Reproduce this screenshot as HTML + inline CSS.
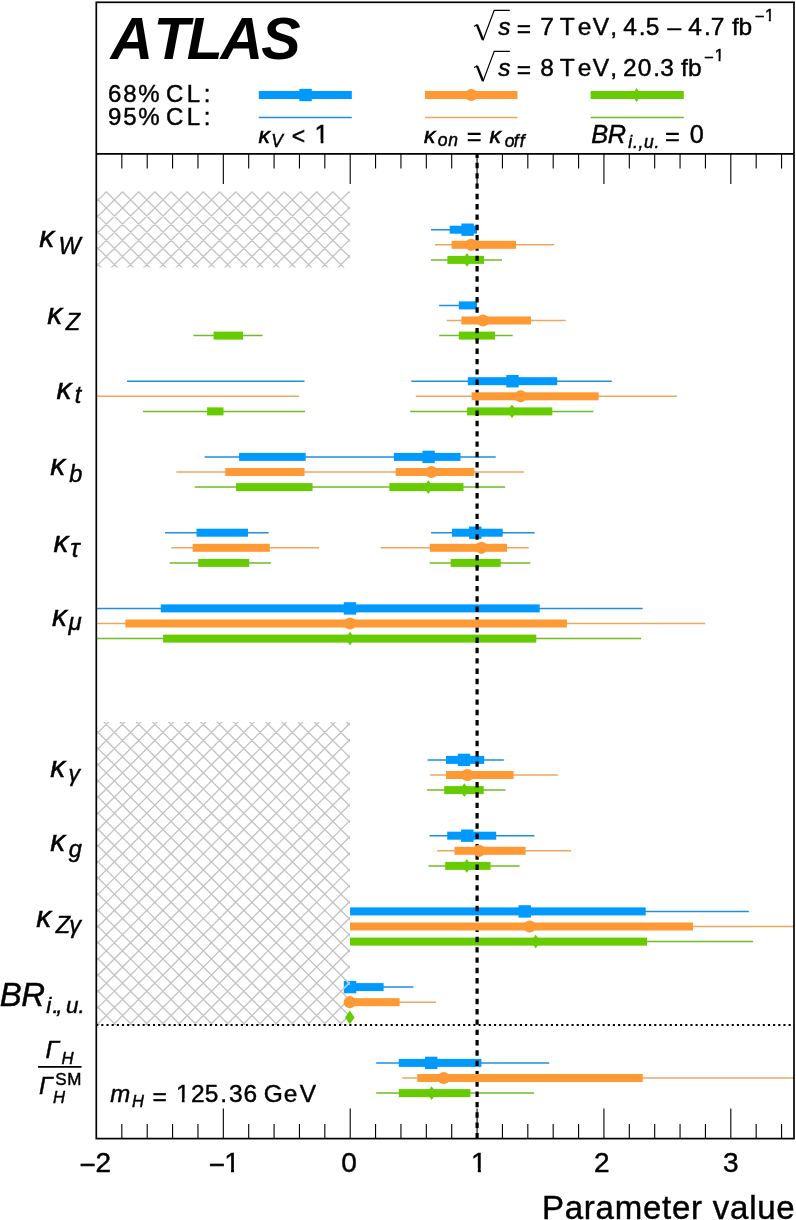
<!DOCTYPE html>
<html lang="en"><head><meta charset="utf-8"><title>ATLAS coupling fits</title>
<style>html,body{margin:0;padding:0;background:#fff}svg{display:block}</style>
</head><body>
<svg width="796" height="1220" viewBox="0 0 796 1220" font-family="'Liberation Sans', sans-serif" fill="#000">
<rect width="796" height="1220" fill="#fff"/>
<clipPath id="h1"><rect x="96.3" y="191.6" width="253.7" height="75.79999999999998"/></clipPath>
<g clip-path="url(#h1)" stroke="#c4c4c4" stroke-width="1.35" fill="none">
<path d="M94.30 -95.29L352.00 162.41M94.30 -79.11L352.00 178.59M94.30 -62.93L352.00 194.77M94.30 -46.75L352.00 210.95M94.30 -30.57L352.00 227.13M94.30 -14.39L352.00 243.31M94.30 1.79L352.00 259.49M94.30 17.97L352.00 275.67M94.30 34.15L352.00 291.85M94.30 50.33L352.00 308.03M94.30 66.51L352.00 324.21M94.30 82.69L352.00 340.39M94.30 98.87L352.00 356.57M94.30 115.05L352.00 372.75M94.30 131.23L352.00 388.93M94.30 147.41L352.00 405.11M94.30 163.59L352.00 421.29M94.30 179.77L352.00 437.47M94.30 195.95L352.00 453.65M94.30 212.13L352.00 469.83M94.30 228.31L352.00 486.01M94.30 244.49L352.00 502.19M94.30 260.67L352.00 518.37M94.30 276.85L352.00 534.55M94.30 293.03L352.00 550.73M94.30 171.47L352.00 -86.23M94.30 187.65L352.00 -70.05M94.30 203.83L352.00 -53.87M94.30 220.01L352.00 -37.69M94.30 236.19L352.00 -21.51M94.30 252.37L352.00 -5.33M94.30 268.55L352.00 10.85M94.30 284.73L352.00 27.03M94.30 300.91L352.00 43.21M94.30 317.09L352.00 59.39M94.30 333.27L352.00 75.57M94.30 349.45L352.00 91.75M94.30 365.63L352.00 107.93M94.30 381.81L352.00 124.11M94.30 397.99L352.00 140.29M94.30 414.17L352.00 156.47M94.30 430.35L352.00 172.65M94.30 446.53L352.00 188.83M94.30 462.71L352.00 205.01M94.30 478.89L352.00 221.19M94.30 495.07L352.00 237.37M94.30 511.25L352.00 253.55M94.30 527.43L352.00 269.73M94.30 543.61L352.00 285.91"/>
</g>
<line x1="431.0" y1="229.7" x2="477.0" y2="229.7" stroke="#1c8ee4" stroke-width="1.5"/>
<rect x="449.7" y="225.7" width="27.3" height="8.0" fill="#0099ff"/>
<rect x="461.4" y="223.5" width="12.4" height="12.4" fill="#0099ff"/>
<line x1="439.2" y1="305.4" x2="477.0" y2="305.4" stroke="#1c8ee4" stroke-width="1.5"/>
<rect x="458.8" y="301.4" width="18.2" height="8.0" fill="#0099ff"/>
<line x1="127.0" y1="381.2" x2="304.5" y2="381.2" stroke="#1c8ee4" stroke-width="1.5"/>
<line x1="411.3" y1="381.2" x2="611.8" y2="381.2" stroke="#1c8ee4" stroke-width="1.5"/>
<rect x="467.8" y="377.2" width="89.4" height="8.0" fill="#0099ff"/>
<rect x="506.3" y="375.0" width="12.4" height="12.4" fill="#0099ff"/>
<line x1="204.7" y1="456.9" x2="495.7" y2="456.9" stroke="#1c8ee4" stroke-width="1.5"/>
<rect x="239.1" y="452.9" width="66.6" height="8.0" fill="#0099ff"/>
<rect x="393.9" y="452.9" width="66.6" height="8.0" fill="#0099ff"/>
<rect x="422.4" y="450.7" width="12.4" height="12.4" fill="#0099ff"/>
<line x1="165.1" y1="532.7" x2="268.6" y2="532.7" stroke="#1c8ee4" stroke-width="1.5"/>
<line x1="431.1" y1="532.7" x2="534.6" y2="532.7" stroke="#1c8ee4" stroke-width="1.5"/>
<rect x="196.5" y="528.7" width="51.5" height="8.0" fill="#0099ff"/>
<rect x="452.0" y="528.7" width="50.7" height="8.0" fill="#0099ff"/>
<rect x="469.1" y="526.5" width="12.4" height="12.4" fill="#0099ff"/>
<line x1="96.0" y1="608.4" x2="642.6" y2="608.4" stroke="#1c8ee4" stroke-width="1.5"/>
<rect x="160.8" y="604.4" width="378.9" height="8.0" fill="#0099ff"/>
<rect x="343.8" y="602.2" width="12.4" height="12.4" fill="#0099ff"/>
<line x1="427.6" y1="759.9" x2="503.8" y2="759.9" stroke="#1c8ee4" stroke-width="1.5"/>
<rect x="446.0" y="755.9" width="38.2" height="8.0" fill="#0099ff"/>
<rect x="457.8" y="753.7" width="12.4" height="12.4" fill="#0099ff"/>
<line x1="429.6" y1="835.7" x2="534.4" y2="835.7" stroke="#1c8ee4" stroke-width="1.5"/>
<rect x="447.2" y="831.7" width="49.0" height="8.0" fill="#0099ff"/>
<rect x="461.1" y="829.5" width="12.4" height="12.4" fill="#0099ff"/>
<line x1="350.0" y1="911.4" x2="748.8" y2="911.4" stroke="#1c8ee4" stroke-width="1.5"/>
<rect x="350.1" y="907.4" width="295.6" height="8.0" fill="#0099ff"/>
<rect x="518.5" y="905.2" width="12.4" height="12.4" fill="#0099ff"/>
<line x1="350.0" y1="987.1" x2="413.5" y2="987.1" stroke="#1c8ee4" stroke-width="1.5"/>
<rect x="350.0" y="983.1" width="33.6" height="8.0" fill="#0099ff"/>
<rect x="343.8" y="980.9" width="12.4" height="12.4" fill="#0099ff"/>
<line x1="376.2" y1="1062.9" x2="549.2" y2="1062.9" stroke="#1c8ee4" stroke-width="1.5"/>
<rect x="398.8" y="1058.9" width="82.6" height="8.0" fill="#0099ff"/>
<rect x="425.0" y="1056.7" width="12.4" height="12.4" fill="#0099ff"/>
<clipPath id="h2"><rect x="96.3" y="722.0" width="253.7" height="303.0"/></clipPath>
<g clip-path="url(#h2)" stroke="#c4c4c4" stroke-width="1.35" fill="none">
<path d="M94.30 437.24L352.00 694.94M94.30 453.42L352.00 711.12M94.30 469.60L352.00 727.30M94.30 485.78L352.00 743.48M94.30 501.96L352.00 759.66M94.30 518.14L352.00 775.84M94.30 534.32L352.00 792.02M94.30 550.50L352.00 808.20M94.30 566.68L352.00 824.38M94.30 582.86L352.00 840.56M94.30 599.04L352.00 856.74M94.30 615.22L352.00 872.92M94.30 631.40L352.00 889.10M94.30 647.58L352.00 905.28M94.30 663.76L352.00 921.46M94.30 679.94L352.00 937.64M94.30 696.12L352.00 953.82M94.30 712.30L352.00 970.00M94.30 728.48L352.00 986.18M94.30 744.66L352.00 1002.36M94.30 760.84L352.00 1018.54M94.30 777.02L352.00 1034.72M94.30 793.20L352.00 1050.90M94.30 809.38L352.00 1067.08M94.30 825.56L352.00 1083.26M94.30 841.74L352.00 1099.44M94.30 857.92L352.00 1115.62M94.30 874.10L352.00 1131.80M94.30 890.28L352.00 1147.98M94.30 906.46L352.00 1164.16M94.30 922.64L352.00 1180.34M94.30 938.82L352.00 1196.52M94.30 955.00L352.00 1212.70M94.30 971.18L352.00 1228.88M94.30 987.36L352.00 1245.06M94.30 1003.54L352.00 1261.24M94.30 1019.72L352.00 1277.42M94.30 1035.90L352.00 1293.60M94.30 1052.08L352.00 1309.78M94.30 703.94L352.00 446.24M94.30 720.12L352.00 462.42M94.30 736.30L352.00 478.60M94.30 752.48L352.00 494.78M94.30 768.66L352.00 510.96M94.30 784.84L352.00 527.14M94.30 801.02L352.00 543.32M94.30 817.20L352.00 559.50M94.30 833.38L352.00 575.68M94.30 849.56L352.00 591.86M94.30 865.74L352.00 608.04M94.30 881.92L352.00 624.22M94.30 898.10L352.00 640.40M94.30 914.28L352.00 656.58M94.30 930.46L352.00 672.76M94.30 946.64L352.00 688.94M94.30 962.82L352.00 705.12M94.30 979.00L352.00 721.30M94.30 995.18L352.00 737.48M94.30 1011.36L352.00 753.66M94.30 1027.54L352.00 769.84M94.30 1043.72L352.00 786.02M94.30 1059.90L352.00 802.20M94.30 1076.08L352.00 818.38M94.30 1092.26L352.00 834.56M94.30 1108.44L352.00 850.74M94.30 1124.62L352.00 866.92M94.30 1140.80L352.00 883.10M94.30 1156.98L352.00 899.28M94.30 1173.16L352.00 915.46M94.30 1189.34L352.00 931.64M94.30 1205.52L352.00 947.82M94.30 1221.70L352.00 964.00M94.30 1237.88L352.00 980.18M94.30 1254.06L352.00 996.36M94.30 1270.24L352.00 1012.54M94.30 1286.42L352.00 1028.72M94.30 1302.60L352.00 1044.90"/>
</g>
<clipPath id="h3"><rect x="343.8" y="980.9499999999999" width="6.199999999999989" height="12.400000000000091"/></clipPath>
<g clip-path="url(#h3)" stroke="#9fd4ff" stroke-width="1.35" fill="none">
<path d="M341.80 943.62L352.00 953.82M341.80 959.80L352.00 970.00M341.80 975.98L352.00 986.18M341.80 992.16L352.00 1002.36M341.80 1008.34L352.00 1018.54M341.80 958.02L352.00 947.82M341.80 974.20L352.00 964.00M341.80 990.38L352.00 980.18M341.80 1006.56L352.00 996.36M341.80 1022.74L352.00 1012.54"/>
</g>
<line x1="431.0" y1="259.9" x2="502.0" y2="259.9" stroke="#6cbe22" stroke-width="1.5"/>
<rect x="447.4" y="255.9" width="36.6" height="8.0" fill="#66cc00"/>
<polygon points="467.0,253.0 471.8,259.9 467.0,266.8 462.2,259.9" fill="#66cc00"/>
<line x1="439.2" y1="335.6" x2="512.7" y2="335.6" stroke="#6cbe22" stroke-width="1.5"/>
<line x1="193.4" y1="335.6" x2="262.7" y2="335.6" stroke="#6cbe22" stroke-width="1.5"/>
<rect x="458.8" y="331.6" width="36.2" height="8.0" fill="#66cc00"/>
<rect x="213.6" y="331.6" width="29.4" height="8.0" fill="#66cc00"/>
<polygon points="477.0,328.7 481.8,335.6 477.0,342.5 472.2,335.6" fill="#66cc00"/>
<line x1="143.0" y1="411.4" x2="305.0" y2="411.4" stroke="#6cbe22" stroke-width="1.5"/>
<line x1="410.2" y1="411.4" x2="593.4" y2="411.4" stroke="#6cbe22" stroke-width="1.5"/>
<rect x="207.1" y="407.4" width="16.4" height="8.0" fill="#66cc00"/>
<rect x="467.1" y="407.4" width="85.2" height="8.0" fill="#66cc00"/>
<polygon points="512.0,404.5 516.8,411.4 512.0,418.3 507.2,411.4" fill="#66cc00"/>
<line x1="194.7" y1="487.1" x2="505.2" y2="487.1" stroke="#6cbe22" stroke-width="1.5"/>
<rect x="236.1" y="483.1" width="76.4" height="8.0" fill="#66cc00"/>
<rect x="389.4" y="483.1" width="74.1" height="8.0" fill="#66cc00"/>
<polygon points="428.3,480.2 433.1,487.1 428.3,494.0 423.5,487.1" fill="#66cc00"/>
<line x1="169.6" y1="562.9" x2="270.9" y2="562.9" stroke="#6cbe22" stroke-width="1.5"/>
<line x1="429.6" y1="562.9" x2="530.4" y2="562.9" stroke="#6cbe22" stroke-width="1.5"/>
<rect x="198.2" y="558.9" width="51.0" height="8.0" fill="#66cc00"/>
<rect x="450.7" y="558.9" width="50.0" height="8.0" fill="#66cc00"/>
<polygon points="477.0,556.0 481.8,562.9 477.0,569.8 472.2,562.9" fill="#66cc00"/>
<line x1="96.0" y1="638.6" x2="641.1" y2="638.6" stroke="#6cbe22" stroke-width="1.5"/>
<rect x="163.1" y="634.6" width="373.2" height="8.0" fill="#66cc00"/>
<polygon points="350.0,631.7 354.8,638.6 350.0,645.5 345.2,638.6" fill="#66cc00"/>
<line x1="427.1" y1="790.1" x2="505.5" y2="790.1" stroke="#6cbe22" stroke-width="1.5"/>
<rect x="444.2" y="786.1" width="39.5" height="8.0" fill="#66cc00"/>
<polygon points="464.3,783.2 469.1,790.1 464.3,797.0 459.5,790.1" fill="#66cc00"/>
<line x1="428.4" y1="865.9" x2="519.6" y2="865.9" stroke="#6cbe22" stroke-width="1.5"/>
<rect x="445.2" y="861.9" width="45.3" height="8.0" fill="#66cc00"/>
<polygon points="466.8,859.0 471.6,865.9 466.8,872.8 462.0,865.9" fill="#66cc00"/>
<line x1="350.0" y1="941.6" x2="753.0" y2="941.6" stroke="#6cbe22" stroke-width="1.5"/>
<rect x="350.0" y="937.6" width="297.0" height="8.0" fill="#66cc00"/>
<polygon points="535.7,934.7 540.5,941.6 535.7,948.5 530.9,941.6" fill="#66cc00"/>
<polygon points="349.8,1010.5 354.6,1017.4 349.8,1024.2 345.0,1017.4" fill="#66cc00"/>
<line x1="376.2" y1="1093.1" x2="534.1" y2="1093.1" stroke="#6cbe22" stroke-width="1.5"/>
<rect x="398.8" y="1089.1" width="71.6" height="8.0" fill="#66cc00"/>
<polygon points="431.6,1086.2 436.4,1093.1 431.6,1100.0 426.8,1093.1" fill="#66cc00"/>
<path d="M121.83 153.9v14.6M121.83 1138.6v-14.6M147.21 153.9v14.6M147.21 1138.6v-14.6M172.58 153.9v14.6M172.58 1138.6v-14.6M197.96 153.9v14.6M197.96 1138.6v-14.6M223.33 153.9v30.0M223.33 1138.6v-30.0M248.70 153.9v14.6M248.70 1138.6v-14.6M274.08 153.9v14.6M274.08 1138.6v-14.6M299.45 153.9v14.6M299.45 1138.6v-14.6M324.83 153.9v14.6M324.83 1138.6v-14.6M350.20 153.9v30.0M350.20 1138.6v-30.0M375.57 153.9v14.6M375.57 1138.6v-14.6M400.95 153.9v14.6M400.95 1138.6v-14.6M426.32 153.9v14.6M426.32 1138.6v-14.6M451.70 153.9v14.6M451.70 1138.6v-14.6M477.07 153.9v30.0M477.07 1138.6v-30.0M502.44 153.9v14.6M502.44 1138.6v-14.6M527.82 153.9v14.6M527.82 1138.6v-14.6M553.19 153.9v14.6M553.19 1138.6v-14.6M578.57 153.9v14.6M578.57 1138.6v-14.6M603.94 153.9v30.0M603.94 1138.6v-30.0M629.31 153.9v14.6M629.31 1138.6v-14.6M654.69 153.9v14.6M654.69 1138.6v-14.6M680.06 153.9v14.6M680.06 1138.6v-14.6M705.44 153.9v14.6M705.44 1138.6v-14.6M730.81 153.9v30.0M730.81 1138.6v-30.0M756.18 153.9v14.6M756.18 1138.6v-14.6M781.56 153.9v14.6M781.56 1138.6v-14.6" stroke="#000" stroke-width="1.1" fill="none"/>
<line x1="96.3" y1="1025.0" x2="794.0" y2="1025.0" stroke="#000" stroke-width="1.9" stroke-dasharray="2.1 3.0675" stroke-dashoffset="0.17"/>
<line x1="477.1" y1="153.0" x2="477.1" y2="1138.6" stroke="#000" stroke-width="3.2" stroke-dasharray="5.4 4.92" stroke-dashoffset="0.5"/>
<line x1="435.0" y1="244.8" x2="554.2" y2="244.8" stroke="#eba760" stroke-width="1.5"/>
<rect x="451.6" y="240.8" width="64.4" height="8.0" fill="#ff9933"/>
<circle cx="471.2" cy="244.8" r="6.1" fill="#ff9933"/>
<line x1="446.7" y1="320.5" x2="565.7" y2="320.5" stroke="#eba760" stroke-width="1.5"/>
<rect x="461.4" y="316.5" width="69.6" height="8.0" fill="#ff9933"/>
<circle cx="483.0" cy="320.5" r="6.1" fill="#ff9933"/>
<line x1="96.0" y1="396.3" x2="299.0" y2="396.3" stroke="#eba760" stroke-width="1.5"/>
<line x1="415.8" y1="396.3" x2="677.0" y2="396.3" stroke="#eba760" stroke-width="1.5"/>
<rect x="471.6" y="392.3" width="127.0" height="8.0" fill="#ff9933"/>
<circle cx="520.6" cy="396.3" r="6.1" fill="#ff9933"/>
<line x1="176.3" y1="472.0" x2="523.8" y2="472.0" stroke="#eba760" stroke-width="1.5"/>
<rect x="225.3" y="468.0" width="79.2" height="8.0" fill="#ff9933"/>
<rect x="395.7" y="468.0" width="78.6" height="8.0" fill="#ff9933"/>
<circle cx="431.4" cy="472.0" r="6.1" fill="#ff9933"/>
<line x1="171.4" y1="547.8" x2="319.1" y2="547.8" stroke="#eba760" stroke-width="1.5"/>
<line x1="380.6" y1="547.8" x2="528.8" y2="547.8" stroke="#eba760" stroke-width="1.5"/>
<rect x="192.7" y="543.8" width="77.1" height="8.0" fill="#ff9933"/>
<rect x="429.8" y="543.8" width="77.2" height="8.0" fill="#ff9933"/>
<circle cx="481.4" cy="547.8" r="6.1" fill="#ff9933"/>
<line x1="96.0" y1="623.5" x2="705.2" y2="623.5" stroke="#eba760" stroke-width="1.5"/>
<rect x="125.4" y="619.5" width="441.5" height="8.0" fill="#ff9933"/>
<circle cx="350.0" cy="623.5" r="6.1" fill="#ff9933"/>
<line x1="430.2" y1="775.0" x2="557.8" y2="775.0" stroke="#eba760" stroke-width="1.5"/>
<rect x="446.0" y="771.0" width="67.6" height="8.0" fill="#ff9933"/>
<circle cx="467.3" cy="775.0" r="6.1" fill="#ff9933"/>
<line x1="437.2" y1="850.8" x2="571.1" y2="850.8" stroke="#eba760" stroke-width="1.5"/>
<rect x="454.5" y="846.8" width="71.1" height="8.0" fill="#ff9933"/>
<circle cx="479.1" cy="850.8" r="6.1" fill="#ff9933"/>
<line x1="350.0" y1="926.5" x2="794.0" y2="926.5" stroke="#eba760" stroke-width="1.5"/>
<rect x="350.0" y="922.5" width="343.0" height="8.0" fill="#ff9933"/>
<circle cx="529.7" cy="926.5" r="6.1" fill="#ff9933"/>
<line x1="350.0" y1="1002.2" x2="436.1" y2="1002.2" stroke="#eba760" stroke-width="1.5"/>
<rect x="350.0" y="998.2" width="49.6" height="8.0" fill="#ff9933"/>
<circle cx="349.8" cy="1002.2" r="6.1" fill="#ff9933"/>
<line x1="402.2" y1="1078.0" x2="794.0" y2="1078.0" stroke="#eba760" stroke-width="1.5"/>
<rect x="417.3" y="1074.0" width="225.4" height="8.0" fill="#ff9933"/>
<circle cx="443.7" cy="1078.0" r="6.1" fill="#ff9933"/>
<rect x="96.3" y="2.3" width="697.7" height="1136.3" fill="none" stroke="#000" stroke-width="1.7"/>
<line x1="96.3" y1="153.9" x2="794.0" y2="153.9" stroke="#000" stroke-width="1.8"/>
<rect x="258.8" y="91.0" width="93.0" height="8.0" fill="#0099ff"/>
<rect x="299.4" y="88.8" width="12.4" height="12.4" fill="#0099ff"/>
<line x1="258.8" y1="117.6" x2="351.8" y2="117.6" stroke="#1c8ee4" stroke-width="1.5"/>
<rect x="425.0" y="91.0" width="92.5" height="8.0" fill="#ff9933"/>
<circle cx="471.3" cy="95.0" r="6.1" fill="#ff9933"/>
<line x1="425.0" y1="117.6" x2="517.5" y2="117.6" stroke="#eba760" stroke-width="1.5"/>
<rect x="590.6" y="91.0" width="93.19999999999993" height="8.0" fill="#66cc00"/>
<polygon points="636.6,88.1 641.4,95.0 636.6,101.9 631.8,95.0" fill="#66cc00"/>
<line x1="590.6" y1="117.6" x2="683.8" y2="117.6" stroke="#6cbe22" stroke-width="1.5"/>
<text x="110.61 153.62 186.76 220.41 261.28" y="58.60 58.60 58.60 58.60 58.60"><tspan font-size="59" font-weight="bold" font-style="italic">ATLAS</tspan></text>
<text x="108.01 123.17 138.34 159.68 166.11 186.87 203.65" y="101.60 101.60 101.60 101.60 101.60 101.60 101.60"><tspan font-size="24" stroke="#000" stroke-width="0.45">68% CL:</tspan></text>
<text x="108.10 123.22 138.34 159.68 166.11 186.87 203.65" y="124.80 124.80 124.80 124.80 124.80 124.80 124.80"><tspan font-size="24" stroke="#000" stroke-width="0.45">95% CL:</tspan></text>
<path d="M474.1 26.5L477.2 24.6" stroke="#000" stroke-width="1.2" fill="none"/>
<path d="M477.0 24.8L482.9 39.7" stroke="#000" stroke-width="2.4" fill="none"/>
<path d="M482.9 40.5L494.2 10.3H509.8" stroke="#000" stroke-width="1.2" fill="none"/>
<path d="M474.1 67.6L477.2 65.7" stroke="#000" stroke-width="1.2" fill="none"/>
<path d="M477.0 65.9L482.9 80.8" stroke="#000" stroke-width="2.4" fill="none"/>
<path d="M482.9 81.6L494.2 51.4H509.8" stroke="#000" stroke-width="1.2" fill="none"/>
<text x="498.17 510.42 516.63 530.94 540.17 553.79 559.67 577.78 592.82 610.32 617.13 623.16 638.79 645.74 659.37 667.52 681.15 688.26 703.89 710.67 724.29 731.88 738.55 754.71 764.94" y="34.70 34.70 36.90 34.70 34.70 34.70 34.70 34.70 34.70 34.70 34.70 34.70 34.70 34.70 34.70 34.70 34.70 34.70 34.70 34.70 34.70 34.70 34.70 22.20 20.90"><tspan font-size="24.5" font-style="italic" stroke="#000" stroke-width="0.45">s</tspan><tspan font-size="24.5" stroke="#000" stroke-width="0.45"> = 7 TeV, 4.5 – 4.7 fb</tspan><tspan font-size="16.5" stroke="#000" stroke-width="0.45">−1</tspan></text><rect x="765.19" y="18.24" width="3.62" height="3.86" fill="#fff"/><rect x="770.82" y="18.24" width="3.76" height="3.86" fill="#fff"/>
<text x="498.17 510.42 516.63 530.94 540.36 553.99 559.67 577.78 592.82 610.32 617.13 623.09 637.67 653.19 660.19 673.82 680.98 687.95 704.01 714.64" y="75.70 75.70 77.90 75.70 75.70 75.70 75.70 75.70 75.70 75.70 75.70 75.70 75.70 75.70 75.70 75.70 75.70 75.70 62.60 61.30"><tspan font-size="24.5" font-style="italic" stroke="#000" stroke-width="0.45">s</tspan><tspan font-size="24.5" stroke="#000" stroke-width="0.45"> = 8 TeV, 20.3 fb</tspan><tspan font-size="16.5" stroke="#000" stroke-width="0.45">−1</tspan></text><rect x="714.89" y="58.64" width="3.62" height="3.86" fill="#fff"/><rect x="720.52" y="58.64" width="3.76" height="3.86" fill="#fff"/>
<text x="258.42 271.31 282.98 291.79 305.22 314.59" y="142.80 147.10 143.00 144.10 143.00 143.00"><tspan font-size="22.8" font-style="italic" stroke="#000" stroke-width="0.6">κ</tspan><tspan font-size="17.5" font-style="italic" stroke="#000" stroke-width="0.45">V</tspan><tspan font-size="23" stroke="#000" stroke-width="0.45"> &lt; </tspan><tspan font-size="25.3" stroke="#000" stroke-width="0.45">1</tspan></text><rect x="315.52" y="139.68" width="5.16" height="4.52" fill="#fff"/><rect x="323.46" y="139.68" width="5.24" height="4.52" fill="#fff"/>
<text x="424.02 437.65 448.23 457.97 466.79 481.56 489.62 504.65 513.64 519.84" y="142.80 146.00 146.00 143.00 145.10 143.00 142.80 146.90 146.90 146.90"><tspan font-size="22.8" font-style="italic" stroke="#000" stroke-width="0.6">κ</tspan><tspan font-size="17.5" font-style="italic" stroke="#000" stroke-width="0.45">on</tspan><tspan font-size="25.3" stroke="#000" stroke-width="0.45"> = </tspan><tspan font-size="22.8" font-style="italic" stroke="#000" stroke-width="0.6">κ</tspan><tspan font-size="17.5" font-style="italic" stroke="#000" stroke-width="0.45">off</tspan></text>
<text x="591.25 607.85 628.34 632.94 638.50 644.07 654.51 659.37 664.89 679.66 689.84" y="143.00 143.00 147.70 147.70 147.70 147.70 147.70 143.00 145.30 143.00 143.00"><tspan font-size="25.3" font-style="italic" stroke="#000" stroke-width="0.45">BR</tspan><tspan font-size="17.5" font-style="italic" stroke="#000" stroke-width="0.45">i.,u.</tspan><tspan font-size="25.3" stroke="#000" stroke-width="0.45"> = 0</tspan></text>
<text x="39.35 58.39" y="246.90 253.50"><tspan font-size="30" font-style="italic" stroke="#000" stroke-width="0.5">κ</tspan><tspan font-size="23.5" font-style="italic" stroke="#000" stroke-width="0.45">W</tspan></text>
<text x="47.15 65.68" y="323.50 330.10"><tspan font-size="30" font-style="italic" stroke="#000" stroke-width="0.5">κ</tspan><tspan font-size="23.5" font-style="italic" stroke="#000" stroke-width="0.45">Z</tspan></text>
<text x="56.55 74.86" y="398.60 403.20"><tspan font-size="30" font-style="italic" stroke="#000" stroke-width="0.5">κ</tspan><tspan font-size="23.5" font-style="italic" stroke="#000" stroke-width="0.45">t</tspan></text>
<text x="50.25 69.29" y="475.10 482.00"><tspan font-size="30" font-style="italic" stroke="#000" stroke-width="0.5">κ</tspan><tspan font-size="23.5" font-style="italic" stroke="#000" stroke-width="0.45">b</tspan></text>
<text x="53.45 70.31" y="551.70 557.20"><tspan font-size="30" font-style="italic" stroke="#000" stroke-width="0.5">κ</tspan><tspan font-size="25" font-style="italic" stroke="#000" stroke-width="0.45">τ</tspan></text>
<text x="52.05 68.53" y="625.60 629.50"><tspan font-size="30" font-style="italic" stroke="#000" stroke-width="0.5">κ</tspan><tspan font-size="24" font-style="italic" stroke="#000" stroke-width="0.45">μ</tspan></text>
<text x="50.25 68.38" y="776.90 780.80"><tspan font-size="30" font-style="italic" stroke="#000" stroke-width="0.5">κ</tspan><tspan font-size="23" font-style="italic" stroke="#000" stroke-width="0.45">γ</tspan></text>
<text x="50.25 68.68" y="851.40 856.50"><tspan font-size="30" font-style="italic" stroke="#000" stroke-width="0.5">κ</tspan><tspan font-size="23.5" font-style="italic" stroke="#000" stroke-width="0.45">g</tspan></text>
<text x="36.35 55.68 69.35" y="926.50 932.80 932.80"><tspan font-size="30" font-style="italic" stroke="#000" stroke-width="0.5">κ</tspan><tspan font-size="23.5" font-style="italic" stroke="#000" stroke-width="0.45">Zγ</tspan></text>
<text x="-0.19 21.21 46.26 52.45 56.32 65.98 78.45" y="1006.40 1006.40 1012.70 1012.70 1012.70 1012.70 1012.70"><tspan font-size="33" font-style="italic" stroke="#000" stroke-width="0.45">BR</tspan><tspan font-size="22.5" font-style="italic" stroke="#000" stroke-width="0.45">i.,u.</tspan></text>
<text x="45.57 61.51" y="1057.90 1064.40"><tspan font-size="24.4" font-style="italic" stroke="#000" stroke-width="0.45">Γ</tspan><tspan font-size="16.7" font-style="italic" stroke="#000" stroke-width="0.45">H</tspan></text>
<line x1="38" y1="1066.9" x2="81.5" y2="1066.9" stroke="#000" stroke-width="1.8"/>
<text x="39.07 53.01 55.15 67.23" y="1093.90 1103.40 1084.90 1084.90"><tspan font-size="24.4" font-style="italic" stroke="#000" stroke-width="0.45">Γ</tspan><tspan font-size="16.7" font-style="italic" stroke="#000" stroke-width="0.45">H</tspan><tspan font-size="17" stroke="#000" stroke-width="0.45">SM</tspan></text>
<text x="110.13 132.02 143.93 152.43 166.74 175.97 190.99 204.84 220.19 228.89 243.38 257.01 263.79 283.68 299.72" y="1101.70 1106.60 1101.70 1104.50 1101.70 1101.70 1101.70 1101.70 1101.70 1101.70 1101.70 1101.70 1101.70 1101.70 1101.70"><tspan font-size="24" font-style="italic" stroke="#000" stroke-width="0.45">m</tspan><tspan font-size="16.5" font-style="italic" stroke="#000" stroke-width="0.45">H</tspan><tspan font-size="24.5" stroke="#000" stroke-width="0.45"> = 125.36 GeV</tspan></text><rect x="176.83" y="1098.44" width="5.02" height="4.46" fill="#fff"/><rect x="184.57" y="1098.44" width="5.10" height="4.46" fill="#fff"/>
<text x="79.44 95.52" y="1174.00 1171.80"><tspan font-size="28" stroke="#000" stroke-width="0.45">−2</tspan></text>
<text x="208.74 224.23" y="1174.00 1171.80"><tspan font-size="28" stroke="#000" stroke-width="0.45">−1</tspan></text><rect x="225.36" y="1168.28" width="5.63" height="4.72" fill="#fff"/><rect x="234.02" y="1168.28" width="5.69" height="4.72" fill="#fff"/>
<text x="341.23" y="1171.80"><tspan font-size="28" stroke="#000" stroke-width="0.45">0</tspan></text>
<text x="471.03" y="1171.80"><tspan font-size="28" stroke="#000" stroke-width="0.45">1</tspan></text><rect x="472.16" y="1168.28" width="5.63" height="4.72" fill="#fff"/><rect x="480.82" y="1168.28" width="5.69" height="4.72" fill="#fff"/>
<text x="593.92" y="1171.80"><tspan font-size="28" stroke="#000" stroke-width="0.45">2</tspan></text>
<text x="722.96" y="1171.80"><tspan font-size="28" stroke="#000" stroke-width="0.45">3</tspan></text>
<text x="541.92 564.69 583.80 595.55 614.67 642.92 662.03 671.96 691.08 702.83 712.76 730.02 749.13 757.22 776.34" y="1218.60 1218.60 1218.60 1218.60 1218.60 1218.60 1218.60 1218.60 1218.60 1218.60 1218.60 1218.60 1218.60 1218.60 1218.60"><tspan font-size="33" stroke="#000" stroke-width="0.45">Parameter value</tspan></text>
</svg>
</body></html>
